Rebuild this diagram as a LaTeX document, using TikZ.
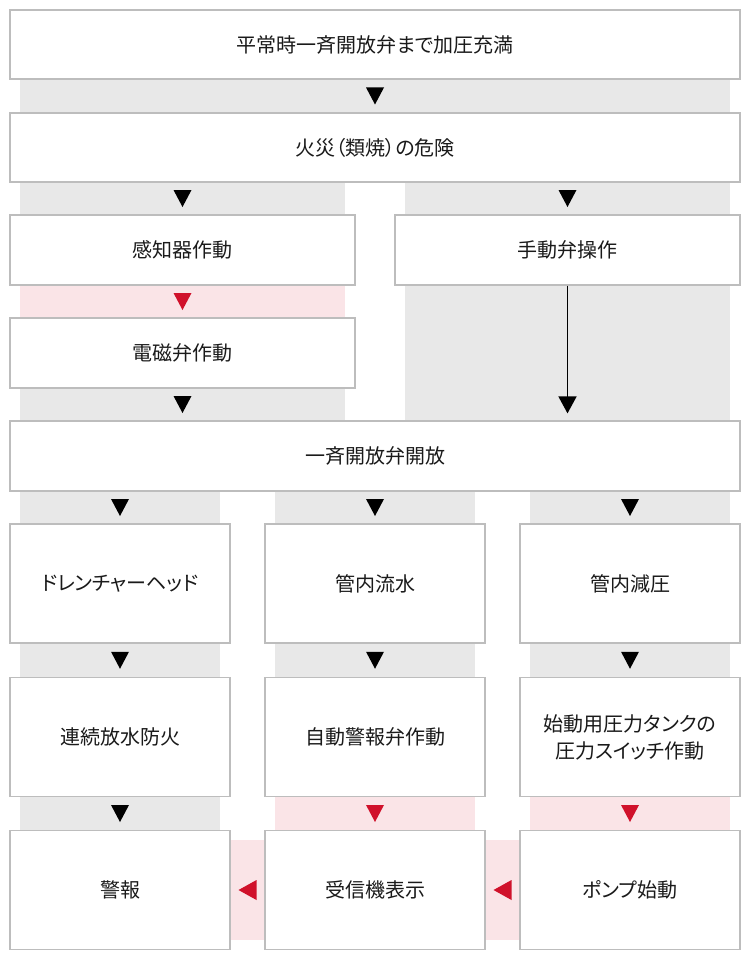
\documentclass[tikz,border=0pt]{standalone}
\usepackage{fontspec}
\setmainfont{Noto Sans CJK JP}[RawFeature=+palt]
\usetikzlibrary{calc,arrows.meta}
\definecolor{bandgray}{HTML}{E8E8E8}
\definecolor{bandpink}{HTML}{FAE4E7}
\definecolor{arrred}{HTML}{D0112B}
\definecolor{boxline}{HTML}{BDBDBD}
\definecolor{txt}{HTML}{1A1A1A}
\newcommand\downtri[3]{\fill[#1] ($(#2)!0.5!(#3)$) +(-9,-8.5) -- +(9,-8.5) -- +(0,8.5) -- cycle;}
\newcommand\lefttri[3]{\fill[#1] ($(#2)!0.5!(#3)$) +(-9,0) -- +(9,-10) -- +(9,10) -- cycle;}
\begin{document}
\begin{tikzpicture}[x=1pt,y=-1pt,
  box/.style={draw=boxline,line width=1.2pt,fill=white,inner sep=0pt,
    text=txt,font=\fontsize{20}{27}\selectfont,align=center},
  wide/.style={box,minimum width=730pt,minimum height=69pt},
  half/.style={box,minimum width=345pt,minimum height=70pt},
  third/.style={box,minimum width=220pt,minimum height=119pt}]
\useasboundingbox (0,0) rectangle (750,960);
\fill[white] (0,0) rectangle (750,960);
% bands
\fill[bandgray] (20,79) rectangle (730,113);
\fill[bandgray] (20,182) rectangle (345,215);
\fill[bandgray] (405,182) rectangle (730,421);
\fill[bandpink] (20,285) rectangle (345,318);
\fill[bandgray] (20,388) rectangle (345,421);
\fill[bandgray] (20,491) rectangle (220,524);
\fill[bandgray] (275,491) rectangle (475,524);
\fill[bandgray] (530,491) rectangle (730,524);
\fill[bandgray] (20,643) rectangle (220,677);
\fill[bandgray] (275,643) rectangle (475,677);
\fill[bandgray] (530,643) rectangle (730,677);
\fill[bandgray] (20,797) rectangle (220,830);
\fill[bandpink] (275,797) rectangle (475,830);
\fill[bandpink] (530,797) rectangle (730,830);
\fill[bandpink] (230,840) rectangle (265,940);
\fill[bandpink] (485,840) rectangle (520,940);
% boxes
\node[wide] (b1) at (375,44.5) {平常時一斉開放弁まで加圧充満};
\node[wide] (b2) at (375,147.5) {火災（類焼）の危険};
\node[half] (b3a) at (182.5,250) {感知器作動};
\node[half] (b3b) at (567.5,250) {手動弁操作};
\node[half] (b4) at (182.5,353) {電磁弁作動};
\node[box,minimum width=730pt,minimum height=70pt] (b5) at (375,456) {一斉開放弁開放};
\node[third] (c1) at (120,583.5) {ドレンチャーヘッド};
\node[third] (c2) at (375,583.5) {管内流水};
\node[third] (c3) at (630,583.5) {管内減圧};
\node[third] (d1) at (120,737) {連続放水防火};
\node[third] (d2) at (375,737) {自動警報弁作動};
\node[third] (d3) at (630,737) {始動用圧力タンクの\\圧力スイッチ作動};
\node[third] (e1) at (120,890) {警報};
\node[third] (e2) at (375,890) {受信機表示};
\node[third] (e3) at (630,890) {ポンプ始動};
% connectors
\downtri{black}{b1.south}{b2.north}
\downtri{black}{b3a.north |- b2.south}{b3a.north}
\downtri{black}{b3b.north |- b2.south}{b3b.north}
\downtri{arrred}{b3a.south}{b4.north}
\downtri{black}{b4.south}{b4.south |- b5.north}
\draw[line width=1.6pt,shorten >=7pt,-{Triangle[width=18pt,length=17pt]}] (b3b.south) -- (b3b.south |- b5.north);
\downtri{black}{c1.north |- b5.south}{c1.north}
\downtri{black}{c2.north |- b5.south}{c2.north}
\downtri{black}{c3.north |- b5.south}{c3.north}
\downtri{black}{c1.south}{d1.north}
\downtri{black}{c2.south}{d2.north}
\downtri{black}{c3.south}{d3.north}
\downtri{black}{d1.south}{e1.north}
\downtri{arrred}{d2.south}{e2.north}
\downtri{arrred}{d3.south}{e3.north}
\lefttri{arrred}{e1.east}{e2.west}
\lefttri{arrred}{e2.east}{e3.west}
\end{tikzpicture}
\end{document}
